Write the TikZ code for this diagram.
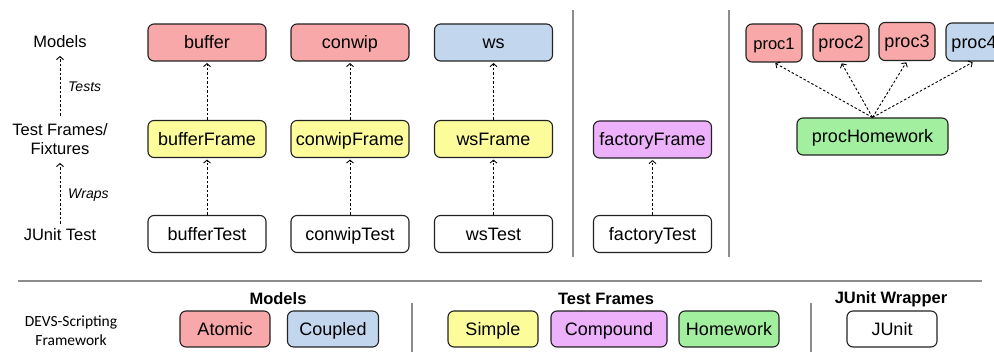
\documentclass[tikz,border=0pt]{standalone}
\usepackage{fontspec}
\setmainfont{Liberation Sans}
\newfontfamily\carl{Carlito}
\usetikzlibrary{arrows.meta}
\definecolor{cred}{HTML}{F8A8A8}
\definecolor{cblue}{HTML}{C2D7EE}
\definecolor{cyellow}{HTML}{FCFC9A}
\definecolor{cpurple}{HTML}{EDB1FB}
\definecolor{cgreen}{HTML}{A2EFA0}
\definecolor{cedge}{HTML}{222222}
\definecolor{csep}{HTML}{8C8C8C}
\begin{document}
\begin{tikzpicture}[x=1pt,y=-1pt,
  box/.style={draw=cedge, line width=1.1pt, rounded corners=6pt, minimum width=118pt,
    minimum height=37pt, inner sep=0pt, text height=13pt, text depth=0pt,
    font=\fontsize{18}{20}\selectfont},
  pbox/.style={box, minimum width=56pt, minimum height=38pt},
  fbox/.style={box, minimum width=90pt, minimum height=36pt},
  arr/.style={-{Straight Barb[length=3pt,width=7pt]}, dash pattern=on 2.5pt off 2pt, line width=0.9pt, shorten >=1.5pt},
  sep/.style={draw=csep, line width=2pt},
  hsep/.style={draw=csep, line width=1.6pt},
  lbl/.style={font=\fontsize{16.5}{19}\selectfont, align=center, inner sep=0pt},
  rel/.style={font=\fontsize{14}{16}\selectfont\itshape, inner sep=0pt, anchor=west},
  head/.style={font=\fontsize{16.5}{19}\selectfont\bfseries, inner sep=0pt}]
\clip (0,0) rectangle (994,352);
\fill[white] (0,0) rectangle (994,352);

% left labels
\node[lbl] (lModels) at (60,42) {Models};
\node[lbl] (lFrames) at (60,139.5) {Test Frames/\\Fixtures};
\node[lbl] (lJUnit) at (60,235) {JUnit Test};
\coordinate (a1s) at (60,116);
\coordinate (a1e) at (60,56);
\coordinate (a2s) at (60,224);
\coordinate (a2e) at (60,163);
\draw[arr, shorten >=0pt] (a1s) -- (a1e);
\draw[arr, shorten >=0pt] (a2s) -- (a2e);
\node[rel] (tTests) at (68,87) {Tests};
\node[rel] (tWraps) at (68,195) {Wraps};

% columns
\node[box, fill=cred] (buffer) at (207,42.5) {buffer};
\node[box, fill=cyellow] (bufferFrame) at (207,139) {bufferFrame};
\node[box, fill=white] (bufferTest) at (207,234) {bufferTest};
\node[box, fill=cred] (conwip) at (350,42.5) {conwip};
\node[box, fill=cyellow] (conwipFrame) at (350,139) {conwipFrame};
\node[box, fill=white] (conwipTest) at (350,234) {conwipTest};
\node[box, fill=cblue] (ws) at (493.5,42.5) {ws};
\node[box, fill=cyellow] (wsFrame) at (493.5,139) {wsFrame};
\node[box, fill=white] (wsTest) at (493.5,234) {wsTest};
\foreach \n in {buffer,conwip,ws}{
  \draw[arr] (\n Test.north) -- (\n Frame.south);
  \draw[arr] (\n Frame.north) -- (\n.south);
}

\draw[sep] (573,10) -- (573,257);
\node[box, fill=cpurple] (factoryFrame) at (652.5,139.5) {factoryFrame};
\node[box, fill=white] (factoryTest) at (652.5,234) {factoryTest};
\draw[arr] (factoryTest.north) -- (factoryFrame.south);

\draw[sep] (729,10) -- (729,257);
\node[pbox, fill=cred, font=\fontsize{16.5}{18}\selectfont] (proc1) at (774,43) {proc1};
\node[pbox, fill=cred] (proc2) at (841,42.5) {proc2};
\node[pbox, fill=cred] (proc3) at (907,41.5) {proc3};
\node[pbox, fill=cblue] (proc4) at (974,42) {proc4};
\node[box, fill=cgreen, minimum width=151pt] (procHomework) at (872.5,136.5) {procHomework};
\foreach \n in {1,2,3,4}{
  \draw[arr] (procHomework.north) -- (proc\n.south);
}

% legend
\draw[hsep] (18,281) -- (982,281);
\node[lbl, font=\carl\fontsize{15.5}{19}\selectfont] (devs) at (71,330.5) {DEVS-Scripting\\Framework};
\node[head] (hModels) at (278,299) {Models};
\node[fbox, fill=cred] (atomic) at (225,329) {Atomic};
\node[fbox, fill=cblue, minimum width=91pt] (coupled) at (333,329) {Coupled};
\draw[sep] (412,303) -- (412,352);
\node[head] (hFrames) at (606,299) {Test Frames};
\node[fbox, fill=cyellow] (simple) at (493,329) {Simple};
\node[fbox, fill=cpurple, minimum width=116pt] (compound) at (609,329) {Compound};
\node[fbox, fill=cgreen, minimum width=100pt] (homework) at (729,329) {Homework};
\draw[sep] (811,303) -- (811,352);
\node[head] (hJUnit) at (891,299) {JUnit Wrapper};
\node[fbox, fill=white] (junit) at (892,329) {JUnit};
\end{tikzpicture}
\end{document}
